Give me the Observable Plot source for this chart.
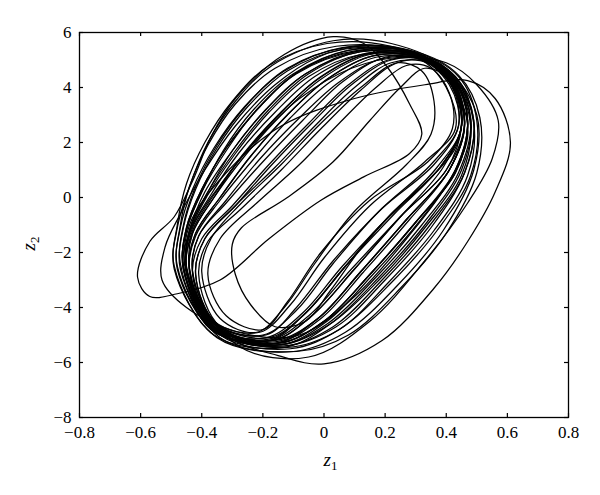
<!DOCTYPE html>
<html><head><meta charset="utf-8">
<script src="https://cdn.jsdelivr.net/npm/d3@7"></script>
<script src="https://cdn.jsdelivr.net/npm/@observablehq/plot@0.6"></script>
<style>
body{margin:0;background:#fff}
svg text{font-family:"Liberation Serif",serif !important;}
</style>
</head><body><div id="chart"></div>
<script>
const xTicks = [-0.8, -0.6, -0.4, -0.2, 0, 0.2, 0.4, 0.6, 0.8];
const yTicks = [-8, -6, -4, -2, 0, 2, 4, 6];

// hand-read loops of the trajectory, [z1, z2]
const loop01 = [[-0.46,-2.6],[-0.45,-1.2],[-0.40,0.2],[-0.32,1.7],[-0.22,3.2],[-0.09,4.5],[0.10,5.3],[0.30,5.2],[0.42,4.3],[0.47,2.8],[0.43,1.0],[0.30,-0.9],[0.15,-2.8],[0.00,-4.5],[-0.15,-5.3],[-0.35,-4.8]];
const loop02 = [[-0.45,-2.6],[-0.44,-1.3],[-0.38,0.1],[-0.29,1.6],[-0.18,3.1],[-0.05,4.4],[0.12,5.2],[0.30,5.1],[0.41,4.2],[0.45,2.7],[0.39,1.1],[0.25,-0.7],[0.10,-2.6],[-0.04,-4.3],[-0.17,-5.2],[-0.36,-4.7]];
const loop03 = [[-0.47,-2.6],[-0.46,-1.1],[-0.42,0.3],[-0.35,1.8],[-0.25,3.3],[-0.12,4.6],[0.07,5.4],[0.28,5.3],[0.43,4.4],[0.49,2.8],[0.46,0.9],[0.34,-1.1],[0.19,-3.0],[0.03,-4.7],[-0.13,-5.4],[-0.35,-4.9]];
const loop04 = [[-0.44,-2.7],[-0.42,-1.4],[-0.34,-0.1],[-0.23,1.4],[-0.11,2.9],[0.02,4.2],[0.17,5.1],[0.32,5.0],[0.42,4.1],[0.46,2.6],[0.41,1.0],[0.27,-0.8],[0.12,-2.7],[-0.02,-4.4],[-0.16,-5.2],[-0.35,-4.7]];
const loop05 = [[-0.48,-2.5],[-0.47,-1.0],[-0.44,0.4],[-0.38,1.9],[-0.29,3.4],[-0.16,4.7],[0.04,5.5],[0.26,5.35],[0.40,4.4],[0.45,2.6],[0.37,1.1],[0.22,-0.6],[0.06,-2.5],[-0.07,-4.2],[-0.19,-5.1],[-0.37,-4.7]];
const loop06 = [[-0.45,-2.6],[-0.43,-1.3],[-0.36,0.0],[-0.26,1.5],[-0.14,3.0],[-0.01,4.3],[0.15,5.2],[0.31,5.15],[0.43,4.3],[0.49,2.7],[0.47,0.8],[0.36,-1.2],[0.21,-3.1],[0.05,-4.8],[-0.12,-5.45],[-0.34,-4.9]];
const loop07 = [[-0.42,-2.8],[-0.39,-1.5],[-0.29,-0.3],[-0.16,1.1],[-0.03,2.6],[0.10,4.0],[0.22,4.9],[0.34,4.9],[0.42,4.0],[0.44,2.6],[0.36,1.2],[0.19,-0.4],[0.03,-2.3],[-0.09,-4.0],[-0.19,-5.0],[-0.35,-4.6]];
const loop08 = [[-0.46,-2.5],[-0.45,-1.1],[-0.40,0.3],[-0.32,1.8],[-0.21,3.3],[-0.08,4.6],[0.11,5.35],[0.30,5.25],[0.42,4.3],[0.46,2.7],[0.41,1.0],[0.27,-0.8],[0.12,-2.7],[-0.02,-4.4],[-0.16,-5.3],[-0.36,-4.8]];
const loop09 = [[-0.43,-2.7],[-0.41,-1.4],[-0.32,-0.2],[-0.20,1.3],[-0.07,2.8],[0.06,4.2],[0.20,5.1],[0.33,5.05],[0.43,4.2],[0.48,2.6],[0.45,0.8],[0.33,-1.1],[0.18,-3.0],[0.02,-4.6],[-0.14,-5.35],[-0.34,-4.8]];
const loop10 = [[-0.45,-2.6],[-0.44,-1.2],[-0.38,0.2],[-0.30,1.7],[-0.19,3.2],[-0.06,4.5],[0.12,5.3],[0.31,5.2],[0.43,4.3],[0.48,2.8],[0.44,0.9],[0.32,-1.0],[0.17,-2.9],[0.01,-4.6],[-0.14,-5.35],[-0.35,-4.85]];
const loop11 = [[-0.38,-2.8],[-0.34,-1.5],[-0.22,-0.2],[-0.08,1.2],[0.05,2.7],[0.17,4.0],[0.27,4.8],[0.35,4.7],[0.41,3.8],[0.42,2.5],[0.34,1.3],[0.15,-0.1],[-0.01,-2.0],[-0.12,-3.8],[-0.20,-4.8],[-0.32,-4.3]];
const loop12 = [[-0.47,-2.4],[-0.46,-1.0],[-0.42,0.4],[-0.35,1.9],[-0.25,3.4],[-0.12,4.7],[0.07,5.45],[0.28,5.35],[0.41,4.4],[0.46,2.7],[0.40,1.0],[0.25,-0.7],[0.09,-2.6],[-0.05,-4.3],[-0.18,-5.2],[-0.37,-4.8]];
const loop13 = [[-0.44,-2.6],[-0.43,-1.3],[-0.36,0.0],[-0.27,1.5],[-0.15,3.0],[-0.02,4.3],[0.14,5.2],[0.31,5.1],[0.42,4.2],[0.45,2.6],[0.38,1.1],[0.22,-0.6],[0.07,-2.5],[-0.06,-4.2],[-0.18,-5.15],[-0.36,-4.7]];
const loop14 = [[-0.46,-2.6],[-0.45,-1.2],[-0.40,0.2],[-0.33,1.7],[-0.23,3.2],[-0.10,4.5],[0.08,5.35],[0.29,5.3],[0.44,4.4],[0.50,2.8],[0.48,0.8],[0.37,-1.2],[0.22,-3.1],[0.05,-4.8],[-0.11,-5.5],[-0.34,-5.0]];
const loop15 = [[-0.44,-2.7],[-0.42,-1.3],[-0.34,0.0],[-0.24,1.5],[-0.12,3.0],[0.01,4.3],[0.16,5.15],[0.32,5.1],[0.43,4.2],[0.47,2.7],[0.43,0.9],[0.30,-0.9],[0.15,-2.8],[0.00,-4.5],[-0.15,-5.3],[-0.35,-4.75]];
const loop16 = [[-0.45,-2.5],[-0.44,-1.2],[-0.38,0.2],[-0.29,1.7],[-0.18,3.2],[-0.05,4.5],[0.12,5.3],[0.30,5.15],[0.41,4.1],[0.44,2.6],[0.35,1.2],[0.18,-0.5],[0.03,-2.4],[-0.09,-4.1],[-0.20,-5.0],[-0.36,-4.6]];
const loop17 = [[-0.43,-2.8],[-0.40,-1.5],[-0.30,-0.3],[-0.18,1.2],[-0.05,2.7],[0.08,4.1],[0.21,5.0],[0.34,5.0],[0.43,4.1],[0.46,2.6],[0.41,1.0],[0.27,-0.8],[0.12,-2.7],[-0.02,-4.4],[-0.16,-5.25],[-0.35,-4.7]];
const loop18 = [[-0.49,-2.6],[-0.48,-1.1],[-0.44,0.4],[-0.38,2.0],[-0.29,3.5],[-0.17,4.8],[0.03,5.7],[0.22,5.6],[0.40,4.7],[0.50,3.0],[0.49,1.0],[0.39,-1.2],[0.24,-3.2],[0.07,-4.9],[-0.10,-5.6],[-0.35,-5.1]];
const loop19 = [[-0.45,-2.7],[-0.44,-1.3],[-0.37,0.1],[-0.28,1.6],[-0.16,3.1],[-0.03,4.4],[0.14,5.25],[0.31,5.2],[0.43,4.35],[0.49,2.8],[0.46,0.9],[0.35,-1.1],[0.20,-3.0],[0.04,-4.7],[-0.13,-5.4],[-0.35,-4.9]];
const loop20 = [[-0.43,-2.7],[-0.41,-1.4],[-0.32,-0.1],[-0.21,1.4],[-0.08,2.9],[0.05,4.2],[0.19,5.05],[0.33,5.0],[0.42,4.1],[0.45,2.6],[0.38,1.1],[0.22,-0.6],[0.07,-2.5],[-0.06,-4.2],[-0.18,-5.1],[-0.35,-4.6]];
const loop21 = [[-0.48,-2.6],[-0.47,-1.1],[-0.43,0.3],[-0.36,1.8],[-0.26,3.3],[-0.13,4.6],[0.06,5.45],[0.27,5.35],[0.42,4.4],[0.47,2.8],[0.43,1.0],[0.31,-0.9],[0.16,-2.8],[0.01,-4.5],[-0.14,-5.35],[-0.36,-4.85]];
const loop22 = [[-0.44,-2.6],[-0.42,-1.3],[-0.34,0.0],[-0.24,1.5],[-0.12,3.0],[0.01,4.3],[0.16,5.15],[0.31,5.05],[0.40,4.0],[0.43,2.5],[0.33,1.3],[0.15,-0.3],[0.00,-2.2],[-0.11,-3.9],[-0.21,-4.9],[-0.36,-4.5]];
const loop23 = [[-0.46,-2.6],[-0.44,-1.2],[-0.39,0.2],[-0.30,1.7],[-0.19,3.2],[-0.06,4.5],[0.12,5.35],[0.30,5.3],[0.44,4.45],[0.51,2.9],[0.50,0.9],[0.40,-1.3],[0.25,-3.3],[0.08,-5.0],[-0.09,-5.6],[-0.34,-5.1]];
const loop24 = [[-0.41,-2.8],[-0.38,-1.6],[-0.27,-0.4],[-0.14,1.0],[-0.01,2.5],[0.12,3.9],[0.24,4.9],[0.35,4.95],[0.44,4.1],[0.47,2.6],[0.43,0.9],[0.30,-0.9],[0.15,-2.8],[0.00,-4.5],[-0.15,-5.3],[-0.34,-4.7]];
const loop25 = [[-0.46,-2.5],[-0.45,-1.1],[-0.40,0.3],[-0.32,1.8],[-0.21,3.3],[-0.08,4.6],[0.10,5.4],[0.29,5.25],[0.41,4.2],[0.45,2.6],[0.38,1.1],[0.23,-0.6],[0.07,-2.5],[-0.06,-4.2],[-0.18,-5.2],[-0.37,-4.8]];
const loop26 = [[-0.45,-2.6],[-0.43,-1.2],[-0.36,0.1],[-0.26,1.6],[-0.14,3.1],[-0.01,4.4],[0.15,5.25],[0.32,5.15],[0.42,4.2],[0.46,2.7],[0.41,1.0],[0.28,-0.8],[0.13,-2.7],[-0.01,-4.4],[-0.16,-5.3],[-0.36,-4.8]];
const loop27 = [[-0.49,-2.5],[-0.48,-1.0],[-0.45,0.5],[-0.39,2.0],[-0.30,3.5],[-0.18,4.8],[0.01,5.6],[0.22,5.5],[0.40,4.6],[0.48,2.9],[0.45,1.0],[0.33,-1.0],[0.18,-2.9],[0.02,-4.6],[-0.13,-5.45],[-0.36,-5.0]];
const loop28 = [[-0.42,-2.8],[-0.39,-1.5],[-0.29,-0.3],[-0.17,1.2],[-0.04,2.7],[0.09,4.1],[0.22,5.0],[0.34,4.95],[0.43,4.0],[0.45,2.6],[0.40,1.0],[0.25,-0.7],[0.10,-2.6],[-0.04,-4.3],[-0.17,-5.2],[-0.35,-4.65]];
const loopG = [[-0.61,-2.9],[-0.57,-1.6],[-0.49,-0.7],[-0.43,0.6],[-0.37,2.2],[-0.29,3.6],[-0.13,5.2],[0.03,5.85],[0.13,5.6],[0.21,4.7],[0.28,3.4],[0.32,2.3],[0.28,1.6],[0.13,0.75],[-0.01,-0.1],[-0.18,-1.5],[-0.34,-3.0],[-0.48,-3.5],[-0.57,-3.6]];
const loopF = [[-0.45,-2.8],[-0.44,-1.0],[-0.32,0.9],[-0.14,2.6],[0.10,3.6],[0.33,4.1],[0.47,4.25],[0.56,3.6],[0.61,2.0],[0.56,0.2],[0.47,-1.6],[0.36,-3.3],[0.19,-5.2],[0.00,-6.05],[-0.15,-5.75],[-0.32,-5.0]];
const loopH = [[-0.45,-2.6],[-0.43,-1.1],[-0.33,0.6],[-0.22,2.1],[-0.08,3.6],[0.09,4.7],[0.25,5.1],[0.40,4.9],[0.50,4.1],[0.57,2.8],[0.55,1.4],[0.47,-0.2],[0.33,-2.3],[0.15,-4.5],[-0.05,-5.8],[-0.28,-5.4]];
const loopX = [[-0.53,-3.0],[-0.52,-1.8],[-0.47,-0.6],[-0.39,1.0],[-0.29,2.6],[-0.16,4.1],[-0.02,5.1],[0.12,5.5],[0.26,5.35],[0.38,4.7],[0.45,3.5],[0.47,2.2],[0.41,0.6],[0.27,-1.5],[0.10,-3.6],[-0.08,-5.0],[-0.28,-4.9],[-0.45,-4.0]];
const loopJ = [[-0.40,-2.7],[-0.37,-1.5],[-0.27,-0.2],[-0.14,1.2],[-0.01,2.7],[0.12,4.0],[0.24,4.9],[0.32,4.6],[0.36,3.5],[0.35,2.3],[0.27,1.2],[0.10,-0.5],[-0.03,-2.4],[-0.13,-4.0],[-0.22,-4.9],[-0.34,-4.4]];
const loopK = [[-0.30,-1.7],[-0.27,-1.1],[-0.12,0.0],[0.03,1.3],[0.15,2.8],[0.25,4.0],[0.33,4.7],[0.41,4.3],[0.45,3.0],[0.43,1.8],[0.33,0.5],[0.16,-1.3],[0.02,-3.4],[-0.06,-4.5],[-0.16,-4.7],[-0.24,-3.9],[-0.29,-2.8]];

const loops = [loop01, loop02, loop03, loop04, loop05, loop06, loop07, loop08, loop09, loop10,
               loop11, loop12, loop13, loop14, loop15, loop16, loop17, loop18, loop19, loop20,
               loop21, loop22, loop23, loop24, loop25, loop26, loop27, loop28,
               loopG, loopF, loopH, loopX, loopJ, loopK];
const trajectory = loops.flatMap((pts, i) => pts.map(([z1, z2]) => ({loop: i, z1, z2})));

const W = 600, H = 495, mL = 79, mR = 32, mT = 32, mB = 78;
const innerW = W - mL - mR, innerH = H - mT - mB, tickLen = 4;
const fmt = d => d === 0 ? "0" : (d < 0 ? "\u2212" : "") + Math.abs(d).toString();

const chart = Plot.plot({
  width: W, height: H,
  marginLeft: mL, marginRight: mR, marginTop: mT, marginBottom: mB,
  style: {fontFamily: "Liberation Serif, serif", fontSize: "17px", color: "#000", background: "#fff"},
  x: {domain: [-0.8, 0.8]},
  y: {domain: [-8, 6]},
  marks: [
    Plot.line(trajectory, {x: "z1", y: "z2", z: "loop", curve: "catmull-rom-closed", stroke: "#000", strokeWidth: 1.25}),
    Plot.frame({stroke: "#000", strokeWidth: 1.3}),
    Plot.tickX(xTicks, {x: d => d, insetTop: innerH - tickLen, stroke: "#000", strokeWidth: 1.2}),
    Plot.tickX(xTicks, {x: d => d, insetBottom: innerH - tickLen, stroke: "#000", strokeWidth: 1.2}),
    Plot.tickY(yTicks, {y: d => d, insetRight: innerW - tickLen, stroke: "#000", strokeWidth: 1.2}),
    Plot.tickY(yTicks, {y: d => d, insetLeft: innerW - tickLen, stroke: "#000", strokeWidth: 1.2}),
    Plot.axisX({ticks: xTicks, tickSize: 0, tickPadding: 8, tickFormat: fmt, label: null}),
    Plot.axisY({ticks: yTicks, tickSize: 0, tickPadding: 8, tickFormat: fmt, label: null})
  ]
});
document.getElementById("chart").appendChild(chart);

const svg = d3.select(chart);
const lx = svg.append("text").attr("x", mL + innerW / 2 + 7).attr("y", H - 29)
  .attr("text-anchor", "middle").attr("font-size", 19).attr("fill", "#000");
lx.append("tspan").attr("font-style", "italic").text("z");
lx.append("tspan").attr("font-size", 13).attr("dy", 4).text("1");
const ly = svg.append("text").attr("transform", `translate(35,${mT + innerH / 2 + 19}) rotate(-90)`)
  .attr("text-anchor", "middle").attr("font-size", 19).attr("fill", "#000");
ly.append("tspan").attr("font-style", "italic").text("z");
ly.append("tspan").attr("font-size", 13).attr("dy", 4).text("2");
</script>
</body></html>
